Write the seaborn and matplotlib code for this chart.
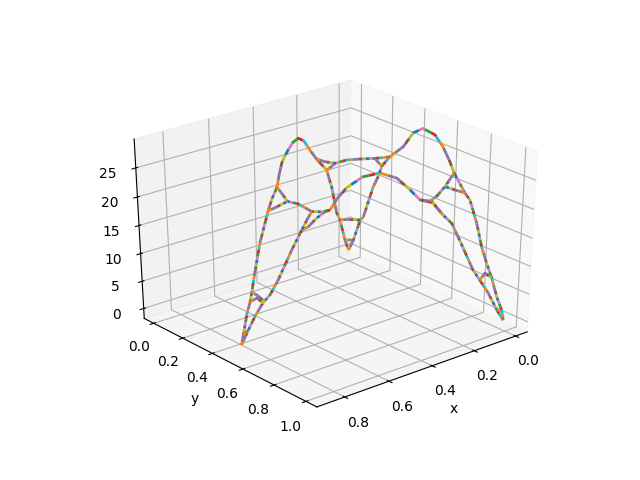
import matplotlib
matplotlib.use('Agg')
import matplotlib.pyplot as plt
import numpy as np
import seaborn as sns

# Outer sides of the figure (x, y, z)
ab_x = [.836,.821,.791,.768,.754,.728,.688,.663,.626,.596,.559,.543,.522,.498,.475,.438,.399,.357,.312,.261,.184,.144,.104,.077,.035,.006]
ab_y = [.483,.474,.457,.444,.436,.420,.397,.383,.362,.344,.323,.314,.302,.287,.274,.253,.230,.206,.180,.151,.106,.083,.060,.044,.020,.003]
ab_z = [-.2,1.3,4.6,6.1,7.6,10.6,14.9,16.7,19.3,20.8,22.1,23.9,25.6,26.3,26.9,27.6,27.6,26.4,24.0,21.5,18.2,14.4,8.9,7.1,2.5,0.0]

ac_x = [.853,.830,.809,.783,.761,.735,.693,.661,.641,.616,.590,.575,.554,.525,.476,.424,.373,.338,.300,.260,.228,.200,.166,.127,.104,.076,.045,.023]
ac_y = [.508,.521,.533,.548,.561,.576,.600,.618,.630,.644,.659,.668,.680,.697,.725,.755,.785,.805,.827,.850,.868,.885,.904,.927,.940,.956,.974,.987]
ac_z = [.4,3.0,5.3,7.6,8.9,11.4,16.3,19.6,20.1,21.4,22.4,22.6,24.4,26.1,27.7,28.1,27.0,25.2,23.0,22.3,20.1,18.5,14.6,9.9,8.0,5.6,2.3,.3]

bc_x = [0.0]*26
bc_y = [-.004,.027,.070,.091,.151,.181,.205,.254,.295,.334,.393,.450,.522,.571,.614,.640,.687,.707,.738,.782,.816,.849,.882,.916,.948,.960]
bc_z = [-.2,2.1,6.4,7.3,13.5,15.7,18.0,20.2,21.6,22.9,26.0,27.4,27.1,25.6,23.5,21.9,20.0,19.2,18.3,14.8,11.0,8.5,6.3,3.3,1.3,-.3]

# Inner links
a1 = ([.559,.559,.559,.559,.559,.559,.559],[.323,.359,.386,.452,.535,.596,.645],[22.1,21.2,20.4,20.8,20.5,21.2,22.1])
a2 = ([.626,.605,.566],[.362,.374,.396],[19.3,19.7,20.6])
a3 = ([.559,.594,.633],[.535,.555,.578],[20.47,19.72,18.77])
a4 = ([.821,.821],[.474,.507],[1.30,2.67])
a5 = ([.768,.746,.728],[.444,.456,.467],[6.10,6.70,5.70])
a6 = ([.754,.754,.754],[.436,.475,.519],[7.60,7.42,6.95])
b1 = ([.261,.235,.202,.165,.122,.074,.048,.025],[.151,.166,.185,.206,.231,.259,.274,.287],[21.55,20.95,20.52,20.93,20.91,20.82,20.81,20.88])
b2 = ([.184,.184,.184],[.106,.133,.159],[18.19,19.05,20.00])
b3 = ([0.0,.034,.059],[.205,.225,.239],[17.99,19.31,20.42])
b4 = ([.077,.050,.010],[.044,.060,.083],[7.06,7.03,6.74])
b5 = ([.035,.007],[.020,.036],[2.49,2.35])
c1 = ([0.0,.074,.140,.198,.281],[.640,.682,.720,.754,.802],[21.87,20.85,20.47,20.70,22.44])
c2 = ([0.0,.032,.064],[.707,.689,.670],[19.19,19.87,20.59])
c3 = ([.228,.228,.228],[.868,.833,.803],[20.06,20.82,21.66])
c4 = ([.104,.061,-.003],[.940,.916,.879],[8.04,8.41,6.20])
c5 = ([.045,.007],[.974,.953],[2.30,1.50])

palette = sns.color_palette('tab10')
order = [1,9,3,2,6,0,8,5,4,7]
AXIS_CAL = 1.03   # tick spacing of the reference's x and y axes

fig = plt.figure(figsize=(6.4,4.8), dpi=100)
ax = fig.add_subplot(projection='3d')
ax.apply_aspect = lambda position=None: None
ax.set_box_aspect((1,1,1), zoom=1.04/1.1)
ax.view_init(elev=30, azim=50)

def draw(x, y, z, on):
    x = .433 + (np.asarray(x) - .433)*AXIS_CAL
    y = .5 + (np.asarray(y) - .5)*AXIS_CAL
    for i, k in enumerate(order):
        ax.plot(x, y, z, color=palette[k], lw=2, linestyle=(i*on, (on, 9*on)))

FINE, COARSE = 1.2, 2.4
for x, y, z, links in [(ab_x,ab_y,ab_z,(10,20)), (ac_x,ac_y,ac_z,(11,19)), (bc_x,bc_y,bc_z,(7,16))]:
    s, e = links
    draw(x[:s+1], y[:s+1], z[:s+1], FINE)
    draw(x[s:e+1], y[s:e+1], z[s:e+1], COARSE)
    draw(x[e:], y[e:], z[e:], FINE)
for seg in [a1,a2,a3,a4,a5,a6,b1,b2,b3,b4,b5,c1,c2,c3,c4,c5]:
    draw(*seg, FINE)

ax.set_xlim(-0.0576,0.9236)
ax.set_ylim(-0.0665,1.0665)
ax.set_zlim(-1.85,29.9,view_margin=0)
ax.set_xlabel('x')
ax.set_ylabel('y')
fig.savefig('out.png', dpi=100)
